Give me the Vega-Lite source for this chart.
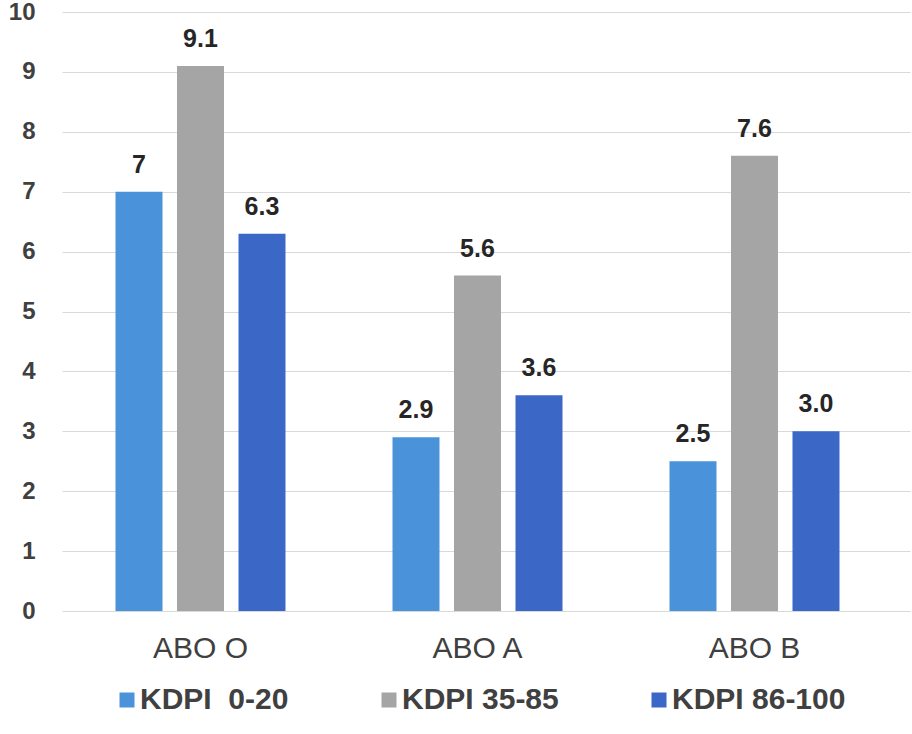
{
  "$schema": "https://vega.github.io/schema/vega-lite/v6.json",
  "width": 848,
  "height": 599,
  "autosize": {"type": "none"},
  "padding": {"left": 62, "top": 12, "right": 2, "bottom": 123},
  "background": "white",
  "config": {"view": {"stroke": null}, "font": "Liberation Sans"},
  "data": {
    "values": [
      {"group": "ABO O", "cat": "KDPI \u00a00-20", "value": 7.0, "label": "7"},
      {"group": "ABO O", "cat": "KDPI 35-85", "value": 9.1, "label": "9.1"},
      {"group": "ABO O", "cat": "KDPI 86-100", "value": 6.3, "label": "6.3"},
      {"group": "ABO A", "cat": "KDPI \u00a00-20", "value": 2.9, "label": "2.9"},
      {"group": "ABO A", "cat": "KDPI 35-85", "value": 5.6, "label": "5.6"},
      {"group": "ABO A", "cat": "KDPI 86-100", "value": 3.6, "label": "3.6"},
      {"group": "ABO B", "cat": "KDPI \u00a00-20", "value": 2.5, "label": "2.5"},
      {"group": "ABO B", "cat": "KDPI 35-85", "value": 7.6, "label": "7.6"},
      {"group": "ABO B", "cat": "KDPI 86-100", "value": 3.0, "label": "3.0"}
    ]
  },
  "encoding": {
    "x": {
      "field": "group",
      "type": "nominal",
      "sort": ["ABO O", "ABO A", "ABO B"],
      "scale": {"paddingInner": 0, "paddingOuter": 0.0307, "align": 0},
      "axis": {
        "title": null,
        "labelAngle": 0,
        "labelFontSize": 30,
        "labelColor": "#404040",
        "labelPadding": 22,
        "ticks": false,
        "domain": false,
        "grid": false
      }
    },
    "xOffset": {
      "field": "cat",
      "type": "nominal",
      "sort": ["KDPI \u00a00-20", "KDPI 35-85", "KDPI 86-100"],
      "scale": {"paddingInner": 0.236, "paddingOuter": 0.87}
    },
    "y": {
      "field": "value",
      "type": "quantitative",
      "scale": {"domain": [0, 10], "nice": false},
      "axis": {
        "title": null,
        "values": [0, 1, 2, 3, 4, 5, 6, 7, 8, 9, 10],
        "labelFontSize": 24,
        "labelFontWeight": "bold",
        "labelColor": "#404040",
        "labelPadding": 27,
        "ticks": false,
        "domain": false,
        "gridColor": "#D9D9D9",
        "gridWidth": 1
      }
    }
  },
  "layer": [
    {
      "mark": {"type": "bar"},
      "encoding": {
        "color": {
          "field": "cat",
          "type": "nominal",
          "sort": ["KDPI \u00a00-20", "KDPI 35-85", "KDPI 86-100"],
          "scale": {"range": ["#4A93DA", "#A5A5A5", "#3B67C7"]},
          "legend": {
            "title": null,
            "orient": "none",
            "direction": "horizontal",
            "legendX": 50,
            "legendY": 673,
            "padding": 0,
            "symbolType": "square",
            "symbolSize": 225,
            "symbolStrokeWidth": 0,
            "labelFontSize": 30,
            "labelFontWeight": "bold",
            "labelColor": "#404040",
            "labelOffset": -2,
            "labelLimit": 300,
            "columnPadding": 85
          }
        }
      }
    },
    {
      "mark": {
        "type": "text",
        "baseline": "bottom",
        "dy": -14,
        "fontSize": 25,
        "fontWeight": "bold",
        "color": "#262626"
      },
      "encoding": {"text": {"field": "label"}}
    }
  ]
}
